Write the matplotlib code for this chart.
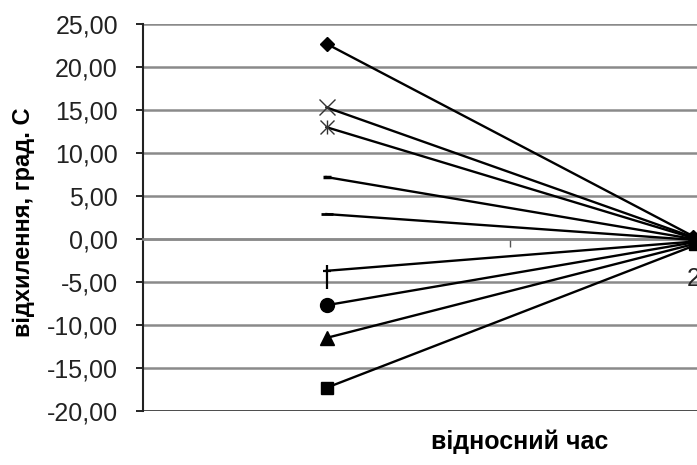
import matplotlib
matplotlib.use("Agg")
import matplotlib.pyplot as plt
from matplotlib.path import Path
import numpy as np

plt.rcParams['font.family'] = ['Liberation Sans', 'DejaVu Sans']

categories = [1, 2]
x_tick_labels = ["1", "2"]
series_start = [22.7, 15.3, 13.0, 7.2, 2.9, -3.7, -7.7, -11.5, -17.3]
series_end = [0.3, 0.2, 0.1, 0.0, -0.1, -0.3, -0.4, -0.6, -0.8]
markers = ['D', 'x', 'ast', '_s', '_', '+', 'o', '^', 's']
y_ticks = [25, 20, 15, 10, 5, 0, -5, -10, -15, -20]

plus_path = Path([(-4, 0), (4, 0), (0, 6), (0, -18)],
                 [Path.MOVETO, Path.LINETO, Path.MOVETO, Path.LINETO])

fig = plt.figure(figsize=(6.97, 4.65), dpi=100)
ax = fig.add_axes([143/697, 1-411/465, 734/697, (411-24)/465])

for ys, ye, m in zip(series_start, series_end, markers):
    ax.plot(categories, [ys, ye], color='black', lw=1.7, zorder=3)
    x0 = [categories[0]]
    if m == 'ast':
        ax.plot(x0, [ys], marker='x', ms=10, mew=1.0, color='#333333', zorder=4)
        ax.plot(x0, [ys], marker='|', ms=10, mew=1.0, color='#333333', zorder=4)
    elif m == 'x':
        ax.plot(x0, [ys], marker='x', ms=11, mew=1.0, color='#333333', zorder=4)
    elif m == '_s':
        ax.plot(x0, [ys], marker='_', ms=6, mew=2.5, color='black', zorder=4)
    elif m == '_':
        ax.plot(x0, [ys], marker='_', ms=9, mew=2.0, color='black', zorder=4)
    elif m == '+':
        ax.plot(x0, [ys], marker=plus_path, ms=26, mew=1.6, color='black', zorder=4)
    elif m == 'D':
        ax.plot(x0, [ys], marker='D', ms=7, color='black', zorder=4)
    elif m == 'o':
        ax.plot(x0, [ys], marker='o', ms=10, color='black', zorder=4)
    elif m == '^':
        ax.plot(x0, [ys], marker='^', ms=10, color='black', zorder=4)
    elif m == 's':
        ax.plot(x0, [ys], marker='s', ms=9, color='black', zorder=4)
    ax.plot([categories[1]], [ye], marker=m if m in ('D', 'o', '^', 's') else 's',
            ms=6, color='black', zorder=4)

ax.set_xlim(0.5, 2.5)
ax.set_ylim(-20, 25)
ax.set_yticks(y_ticks)
ax.set_yticklabels([f"{v:.2f}".replace('.', ',') for v in y_ticks], fontsize=18, color='#222222')
for v in y_ticks:
    ax.axhline(v, color='#8a8a8a', lw=1.8, zorder=1)
ax.axhline(-20, color='#333333', lw=1.8, zorder=2)

ax.set_xticks([1.5], minor=False)
ax.set_xticklabels([""])
ax.tick_params(axis='x', which='major', length=6, width=1, color='#555555', direction='out')
# only the second category label is visible in the reference (the first is hidden by a marker)
ax.annotate(x_tick_labels[1], xy=(categories[1], 0), xytext=(0, -28), textcoords='offset pixels',
            ha='center', va='top', fontsize=18, color='#222222', zorder=5)

ax.spines['top'].set_visible(False)
ax.spines['right'].set_visible(False)
ax.spines['bottom'].set_position(('data', 0))
ax.spines['bottom'].set_color('#8a8a8a')
ax.spines['bottom'].set_linewidth(1.8)
ax.spines['left'].set_color('#222222')
ax.spines['left'].set_linewidth(1.5)
ax.tick_params(axis='y', length=5, width=1.2, pad=13, direction='out')

ax.set_ylabel("відхилення, град. С", fontsize=17, fontweight='bold')
ax.yaxis.set_label_coords(-(143-35)/734, (411-222)/387)
fig.text(520/697, 1-442/465, "відносний час", ha='center', va='center',
         fontsize=18, fontweight='bold')

fig.savefig("out.png", dpi=100)
